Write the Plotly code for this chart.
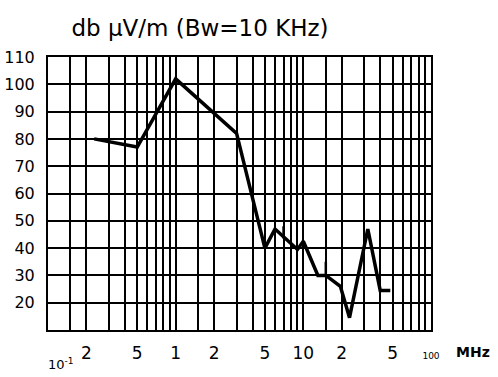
import plotly.graph_objects as go

# Data (frequency in MHz, level in dB µV/m)
freq_mhz = [0.23, 0.5, 1.0, 3.0, 5.0, 6.0, 9.0, 10.0, 13.0, 15.0, 19.5, 23.0, 32.0, 40.0, 48.0]
level_db = [80, 77, 102, 82, 40, 47, 39.5, 42.5, 30, 30, 26, 14.5, 47, 24.5, 24.5]

# small vertical pen strokes on the curve
spike1_x = [7, 7]
spike1_y = [43.5, 48]
spike2_x = [15, 15]
spike2_y = [30, 35]

# x grid / tick labels
x_grid = [0.1, 0.15, 0.2, 0.3, 0.4, 0.5, 0.6, 0.7, 0.8, 0.9,
          1, 1.5, 2, 3, 4, 5, 6, 7, 8, 9,
          10, 15, 20, 30, 40, 50, 60, 70, 80, 90, 100]
x_text = ["", "", "2", "", "", "5", "", "", "", "",
          "1", "", "2", "", "", "5", "", "", "", "",
          "10", "", "2", "", "", "5", "", "", "", "",
          "<span style='font-size:9px'>100</span>"]

y_ticks = [10, 20, 30, 40, 50, 60, 70, 80, 90, 100, 110]
y_text = ["", "20", "30", "40", "50", "60", "70", "80", "90", "100", "110"]

title_text = "db µV/m (Bw=10 KHz)"
unit_text = "<b>MHz</b>"
decade_text = "10<sup>-1</sup>"

fig = go.Figure()
fig.add_trace(go.Scatter(x=freq_mhz, y=level_db, mode="lines",
                         line=dict(color="black", width=3.5), showlegend=False))
for sx, sy in [(spike1_x, spike1_y), (spike2_x, spike2_y)]:
    fig.add_trace(go.Scatter(x=sx, y=sy, mode="lines",
                             line=dict(color="black", width=2.5), showlegend=False))

font = dict(family="DejaVu Sans", color="black", size=16)

fig.update_layout(
    width=498, height=377,
    margin=dict(l=48, r=67, t=57, b=47, autoexpand=False),
    paper_bgcolor="white", plot_bgcolor="white",
    font=font,
    title=dict(text=title_text, x=(200 - 48) / 383, xanchor="center", xref="paper",
               y=1 - 28 / 377, yanchor="middle", yref="container",
               font=dict(family="DejaVu Sans", size=23, color="black")),
)
fig.update_xaxes(type="log", range=[-1, 2], tickmode="array",
                 tickvals=x_grid, ticktext=x_text, automargin=False,
                 showgrid=True, gridcolor="black", gridwidth=1.5,
                 showline=True, linecolor="black", linewidth=2, mirror=True,
                 ticks="", ticklabelstandoff=7, zeroline=False,
                 tickfont=dict(family="DejaVu Sans", size=17, color="black"))
fig.update_yaxes(range=[10, 110], tickmode="array",
                 tickvals=y_ticks, ticktext=y_text, automargin=False,
                 showgrid=True, gridcolor="black", gridwidth=1.5,
                 showline=True, linecolor="black", linewidth=2, mirror=True,
                 ticks="", ticklabelstandoff=8, zeroline=False,
                 tickfont=dict(family="DejaVu Sans", size=16, color="black"))

fig.add_annotation(text=unit_text, xref="paper", yref="paper",
                   x=(473 - 48) / 383, y=-(352 - 330) / 273,
                   showarrow=False, xanchor="center", yanchor="middle",
                   font=dict(family="DejaVu Sans", size=14, color="black"))
fig.add_annotation(text=decade_text, xref="paper", yref="paper",
                   x=(61 - 48) / 383, y=-(364 - 330) / 273,
                   showarrow=False, xanchor="center", yanchor="middle",
                   font=dict(family="DejaVu Sans", size=13, color="black"))

fig.write_html("out.html", config={"displayModeBar": False},
               post_script="document.body.style.margin='0';document.body.style.overflow='hidden';")
